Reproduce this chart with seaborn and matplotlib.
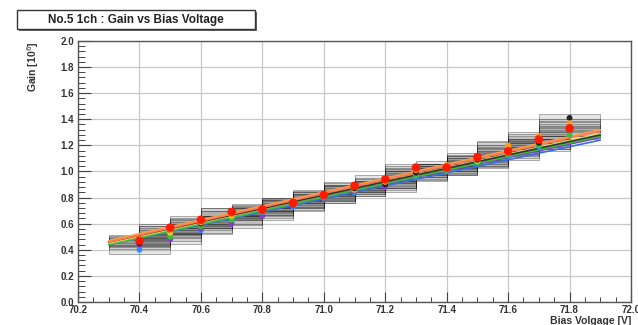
import numpy as np
import pandas as pd
import matplotlib
matplotlib.use('Agg')
import matplotlib.pyplot as plt
import seaborn as sns
from matplotlib.ticker import MultipleLocator
from matplotlib.patches import Rectangle

# bias voltage steps [V]
voltage = [70.4, 70.5, 70.6, 70.7, 70.8, 70.9, 71.0, 71.1, 71.2, 71.3, 71.4, 71.5, 71.6, 71.7, 71.8]

# gain [10^6] per channel
gain_red = [0.47, 0.57, 0.63, 0.69, 0.71, 0.76, 0.82, 0.89, 0.94, 1.03, 1.03, 1.11, 1.155, 1.245, 1.33]
gain_orange = [0.48, 0.55, 0.61, 0.67, 0.72, 0.77, 0.83, 0.88, 0.92, 1.01, 1.05, 1.10, 1.20, 1.27, 1.37]
gain_yellow = [0.47, 0.53, 0.60, 0.66, 0.70, 0.76, 0.81, 0.86, 0.91, 0.99, 1.02, 1.08, 1.19, 1.25, 1.35]
gain_green = [0.46, 0.50, 0.58, 0.63, 0.69, 0.75, 0.80, 0.86, 0.90, 0.97, 1.01, 1.07, 1.13, 1.20, 1.28]
gain_blue = [0.40, 0.52, 0.55, 0.62, 0.67, 0.73, 0.79, 0.84, 0.89, 0.96, 1.00, 1.06, 1.12, 1.19, 1.30]
gain_purple = [0.44, 0.48, 0.56, 0.60, 0.66, 0.74, 0.79, 0.85, 0.88, 0.97, 1.01, 1.07, 1.17, 1.21, 1.31]
gain_black = [0.45, 0.55, 0.60, 0.69, 0.70, 0.75, 0.81, 0.87, 0.90, 0.99, 1.03, 1.09, 1.15, 1.22, 1.41]

# y error of each channel (half height of the grey boxes)
gain_err = [0.03, 0.03, 0.035, 0.03, 0.03, 0.035, 0.03]

# linear fits, drawn from 70.3 V to 71.9 V
fit_voltage = [70.3, 71.9]
fit_start = [0.46, 0.47, 0.45, 0.44, 0.44, 0.45, 0.46]
fit_end = [1.31, 1.32, 1.29, 1.27, 1.24, 1.26, 1.28]

channel_names = ['red', 'orange', 'yellow', 'green', 'blue', 'purple', 'black']
channel_gain = [gain_red, gain_orange, gain_yellow, gain_green, gain_blue, gain_purple, gain_black]
colors = {'red': '#ff1a00', 'orange': '#ff9a1a', 'yellow': '#e8d21a', 'green': '#35c135',
          'blue': '#2f8cff', 'purple': '#8a3ccf', 'black': '#222222'}
fit_colors = {'red': '#ff7a5a', 'orange': '#ff9f40', 'yellow': '#e6d84a', 'green': '#3dbb3d',
              'blue': '#3a6ee0', 'purple': '#7a3cc0', 'black': '#333333'}

points = pd.DataFrame({
    'Voltage': voltage * len(channel_names),
    'Gain': sum(channel_gain, []),
    'Channel': np.repeat(channel_names, len(voltage)),
})
fits = pd.DataFrame({
    'Voltage': fit_voltage * len(channel_names),
    'Gain': [v for s, e in zip(fit_start, fit_end) for v in (s, e)],
    'Channel': np.repeat(channel_names, len(fit_voltage)),
})

sns.set_style('whitegrid')
plt.rcParams['font.family'] = ['Liberation Sans', 'DejaVu Sans']

fig = plt.figure(figsize=(6.38, 3.25), dpi=100)
ax = fig.add_axes([0.1223, 0.0708, 0.8667, 0.8032])

# grey error boxes (x error = +-0.1 V)
for name, err in zip(channel_names, gain_err):
    g = points[points['Channel'] == name]
    ax.bar(g['Voltage'], 2 * err, bottom=g['Gain'] - err, width=0.2,
           facecolor=(0.4, 0.4, 0.4, 0.16), edgecolor=(0, 0, 0, 0.35),
           linewidth=0.6, zorder=2)

# fit lines
order = ['blue', 'purple', 'green', 'yellow', 'black', 'orange', 'red']
sns.lineplot(data=fits, x='Voltage', y='Gain', hue='Channel', hue_order=order,
             palette=fit_colors, linewidth=1.2, legend=False, ax=ax, zorder=3)

# markers
for name in order:
    g = points[points['Channel'] == name]
    size = 38 if name == 'red' else 18
    sns.scatterplot(data=g, x='Voltage', y='Gain', color=colors[name], s=size,
                    edgecolor='none', legend=False, ax=ax, zorder=4)

ax.set_xlim(70.2, 72.0)
ax.set_ylim(0, 2.0)
ax.xaxis.set_minor_locator(MultipleLocator(0.05))
ax.yaxis.set_minor_locator(MultipleLocator(0.04))
ax.set_xticks([70.2 + 0.2 * i for i in range(10)])
ax.set_xticklabels(['70.2', '70.4', '70.6', '70.8', '71.0', '71.2', '71.4', '71.6', '71.8', '72.0'])
ax.set_yticks([0.2 * i for i in range(11)])
ax.set_yticklabels(['0.0', '0.2', '0.4', '0.6', '0.8', '1.0', '1.2', '1.4', '1.6', '1.8', '2.0'])

ax.grid(True, which='major', color='#c8c8c8', linewidth=0.9)
ax.grid(False, which='minor')
ax.tick_params(axis='x', which='major', direction='in', length=7, width=0.8, color='#444444',
               labelsize=7, pad=2, bottom=True, top=False)
ax.tick_params(axis='x', which='minor', direction='in', length=3.5, width=0.7, color='#444444',
               bottom=True, top=False)
ax.tick_params(axis='y', which='major', direction='in', length=9, width=0.8, color='#444444',
               labelsize=7, pad=3, left=True, right=False)
ax.tick_params(axis='y', which='minor', direction='in', length=5, width=0.7, color='#444444',
               left=True, right=False)
for lab in ax.get_xticklabels() + ax.get_yticklabels():
    lab.set_fontweight('bold')
    lab.set_color('#333333')
for side in ['left', 'bottom', 'top', 'right']:
    ax.spines[side].set_visible(True)
    ax.spines[side].set_color('#555555')
    ax.spines[side].set_linewidth(1.0)

ax.set_xlabel('Bias Volgage [V]', fontsize=7.5, fontweight='bold', color='#333333')
ax.xaxis.set_label_coords(1.0, -0.055)
ax.xaxis.label.set_horizontalalignment('right')
ax.set_ylabel('Gain [10$^6$]', fontsize=7.5, fontweight='bold', color='#333333')
ax.yaxis.set_label_coords(-0.095, 1.0)
ax.yaxis.label.set_verticalalignment('top')
ax.yaxis.label.set_horizontalalignment('right')

# title box with shadow
fig.patches.append(Rectangle((19 / 638, 1 - 31 / 325), 238 / 638, 19 / 325,
                             transform=fig.transFigure, facecolor='#666666',
                             edgecolor='none', zorder=1))
fig.patches.append(Rectangle((17 / 638, 1 - 29 / 325), 238 / 638, 19 / 325,
                             transform=fig.transFigure, facecolor='white',
                             edgecolor='#333333', linewidth=1.0, zorder=2))
fig.text(136 / 638, 1 - 19.5 / 325, 'No.5 1ch : Gain vs Bias Voltage', fontsize=8.5,
         fontweight='bold', color='#222222', ha='center', va='center', zorder=3)

fig.savefig('out.png', dpi=100)
